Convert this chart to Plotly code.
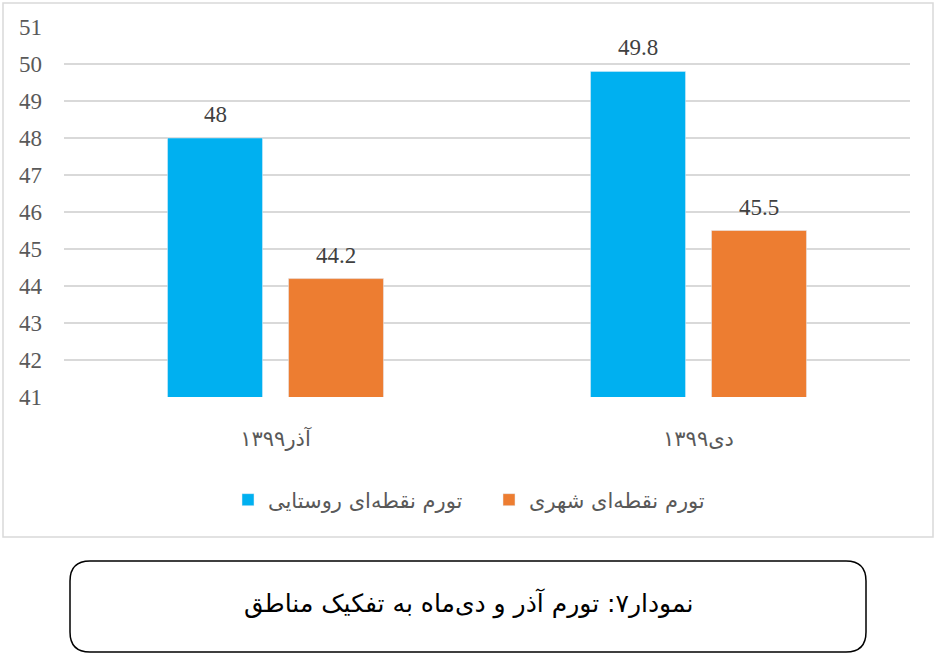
import plotly.graph_objects as go

months = ["آذر۱۳۹۹", "دی۱۳۹۹"]
rural = [48, 49.8]
urban = [44.2, 45.5]
rural_name = "تورم نقطه‌ای روستایی"
urban_name = "تورم نقطه‌ای شهری"
caption = "نمودار۷: تورم آذر و دی‌ماه به تفکیک مناطق"

W, H = 937, 658
L, R, T, B = 64, 910, 27, 397


def px(x):
    return (x - L) / (R - L)


def py(y):
    return (B - y) / (B - T)


num_font = dict(family="Liberation Serif", size=23, color="#404040")
fa_font = dict(family="DejaVu Sans", size=21, color="#595959")

fig = go.Figure()
fig.add_trace(go.Bar(x=months, y=rural, name=rural_name, marker_color="#00B0F0"))
fig.add_trace(go.Bar(x=months, y=urban, name=urban_name, marker_color="#ED7D31"))

# value labels, a bit higher above the bars than plotly's own outside text
for vals, shift in [(rural, -60.5), (urban, 60.5)]:
    for m, v in zip(months, vals):
        fig.add_annotation(x=m, y=v, text=f"{v:g}", showarrow=False,
                           xshift=shift, yshift=9, yanchor="bottom", font=num_font)

# chart frame
fig.add_shape(type="rect", xref="paper", yref="paper",
              x0=px(3), x1=px(933), y0=py(537), y1=py(3),
              line=dict(color="#D9D9D9", width=1.5), layer="below")

# rounded caption box
x0, x1, y0, y1, r = px(70), px(866), py(652), py(561), 20
rx, ry = r / (R - L), r / (B - T)
path = (f"M {x0+rx},{y1} L {x1-rx},{y1} Q {x1},{y1} {x1},{y1-ry} "
        f"L {x1},{y0+ry} Q {x1},{y0} {x1-rx},{y0} L {x0+rx},{y0} "
        f"Q {x0},{y0} {x0},{y0+ry} L {x0},{y1-ry} Q {x0},{y1} {x0+rx},{y1} Z")
fig.add_shape(type="path", xref="paper", yref="paper", path=path,
              line=dict(color="black", width=1.5))
fig.add_annotation(xref="paper", yref="paper", x=px(468), y=py(603),
                   text=caption, showarrow=False, yanchor="middle",
                   font=dict(family="DejaVu Sans", size=25, color="black"))

fig.update_layout(
    width=W, height=H,
    margin=dict(l=L, r=W - R, t=T, b=H - B),
    paper_bgcolor="white", plot_bgcolor="white",
    barmode="group", bargap=0.428, bargroupgap=0.215,
    showlegend=True,
    legend=dict(orientation="h", x=px(228), xanchor="left", y=py(500), yanchor="middle",
                font=fa_font, itemwidth=30, traceorder="normal",
                entrywidth=216, entrywidthmode="pixels"),
    xaxis=dict(showgrid=False, showline=False, ticks="", tickfont=fa_font,
               ticklabelstandoff=27),
    yaxis=dict(range=[41, 51], dtick=1, showgrid=True, gridcolor="#D9D9D9", gridwidth=1.5,
               zeroline=False, showline=False, tickfont=dict(num_font, color="#595959"),
               ticklabelstandoff=21),
)

fig.write_html("out.html", config={"displayModeBar": False},
               post_script="document.body.style.margin='0';")
